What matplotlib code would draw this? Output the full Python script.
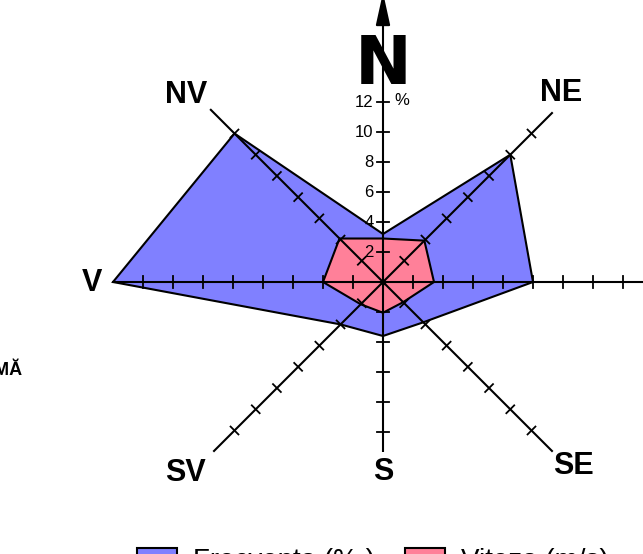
import numpy as np
import matplotlib
matplotlib.use("Agg")
import matplotlib.pyplot as plt
from matplotlib.patches import Polygon
from matplotlib.font_manager import FontProperties

plt.rcParams['font.family'] = ['Liberation Sans', 'DejaVu Sans']

# directions, counter-clockwise from east (degrees)
directions = ['E', 'NE', 'N', 'NV', 'V', 'SV', 'S', 'SE']
angles = [0, 45, 90, 135, 180, 225, 270, 315]

# frequency (%) and wind speed (m/s) per direction
frecventa = [10.0, 12.0, 3.2, 14.0, 18.0, 4.0, 3.6, 3.8]
viteza = [3.4, 3.9, 2.9, 4.1, 4.0, 2.1, 2.05, 1.9]

# length of each axis line and how far its ticks go
axis_len = [18.0, 16.0, 19.3, 16.3, 18.1, 16.0, 11.35, 16.0]
tick_max = [16, 14, 12, 14, 16, 14, 10, 14]

n_ticks = [2, 4, 6, 8, 10, 12]

# label positions (data units) for the compass letters
label_pos = {'NE': (11.9, 12.6), 'NV': (-13.1, 12.45),
             'V': (-19.4, -0.05), 'SV': (-13.2, -12.75), 'S': (0.0, -12.7),
             'SE': (12.7, -12.25)}

fig = plt.figure(figsize=(6.43, 5.54), dpi=100)
ax = fig.add_axes([0, 0, 1, 1])
px = 15.0  # pixels per unit
ax.set_xlim(-383 / px, (643 - 383) / px)
ax.set_ylim(-(554 - 282) / px, 282 / px)
ax.axis('off')

rad = np.radians(angles)


def to_xy(vals):
    return np.column_stack([np.array(vals) * np.cos(rad), np.array(vals) * np.sin(rad)])


blue = Polygon(to_xy(frecventa), closed=True, facecolor='#8080FF', edgecolor='black',
               linewidth=1.5, joinstyle='miter', zorder=1, label='Frecventa (% )')
pink = Polygon(to_xy(viteza), closed=True, facecolor='#FF8099', edgecolor='black',
               linewidth=1.5, joinstyle='miter', zorder=2, label='Viteza (m/s)')
ax.add_patch(blue)
ax.add_patch(pink)

# axes with tick marks
tl = 0.37
for a, L, tm, d in zip(rad, axis_len, tick_max, directions):
    c, s = np.cos(a), np.sin(a)
    if d == 'N':
        ax.annotate('', xy=(0, L), xytext=(0, 0), annotation_clip=False,
                    arrowprops=dict(arrowstyle='-|>,head_length=1.0,head_width=0.22',
                                    mutation_scale=20, color='black', lw=1.5,
                                    shrinkA=0, shrinkB=0), zorder=3)
    else:
        ax.plot([0, L * c], [0, L * s], color='black', lw=1.5, zorder=3,
                solid_capstyle='butt')
    for r in range(2, tm + 1, 2):
        x0, y0 = r * c, r * s
        ax.plot([x0 - tl * s, x0 + tl * s], [y0 + tl * c, y0 - tl * c],
                color='black', lw=1.3, zorder=3)

ax.plot(0, 0, 'o', color='black', ms=3, zorder=4)

# scale labels on the north axis
for v in n_ticks:
    ax.text(-0.62, v, str(v), ha='right', va='center', fontsize=12, zorder=5)
ax.text(0.75, 12.1, '%', ha='left', va='center', fontsize=12, zorder=5)

# compass labels
big_n = FontProperties(family='Liberation Sans Narrow', weight='bold', size=49)
ax.text(0.03, 14.45, 'N', ha='center', va='center', fontproperties=big_n, zorder=5)
for d, (x, y) in label_pos.items():
    ax.text(x, y, d, ha='center', va='center', fontsize=22, fontweight='bold', zorder=5)

# clipped side note on the left
fig.text(22 / 643, 1 - 375 / 554, 'CALMĂ', ha='right', va='baseline',
         fontsize=13, fontweight='bold')

fig.legend(handles=[blue, pink], loc='upper left', bbox_to_anchor=(137 / 643, 1 - 548 / 554),
           ncol=2, frameon=False, fontsize=20, handlelength=1.45, handleheight=0.75,
           handletextpad=0.55, columnspacing=1.1, borderpad=0, borderaxespad=0)

fig.savefig('out.png', dpi=100)
